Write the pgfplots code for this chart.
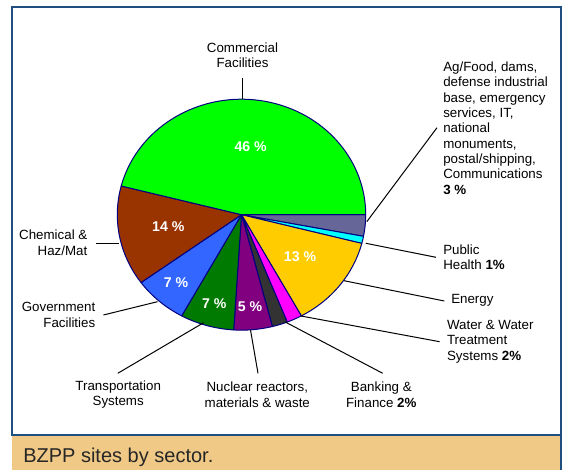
\documentclass[border=0pt]{standalone}
\usepackage{pgfplots}
\pgfplotsset{compat=1.18}
\usepackage{fontspec}
\setmainfont{Liberation Sans}
\definecolor{frameblue}{RGB}{31,78,128}
\definecolor{captan}{RGB}{240,201,135}
\definecolor{pieline}{RGB}{0,0,128}
\definecolor{cother}{HTML}{666699}
\definecolor{chealth}{HTML}{00FFFF}
\definecolor{cenergy}{HTML}{FFCC00}
\definecolor{cwater}{HTML}{FF00FF}
\definecolor{cbank}{HTML}{333333}
\definecolor{cnuc}{HTML}{800080}
\definecolor{ctrans}{HTML}{007A00}
\definecolor{cgov}{HTML}{3366FF}
\definecolor{cchem}{HTML}{993300}
\definecolor{ccomm}{HTML}{00FF00}
% slice: cumulative start percent, cumulative end percent, colour
\newcommand{\slice}[3]{%
  \fill[#3, draw=pieline, line width=0.75pt, line join=round]
    (axis cs:241.5,255.3) -- ++({-3.6*#1}:93.15pt and 86.6pt)
    arc[start angle={-3.6*#1}, end angle={-3.6*#2}, x radius=93.15pt, y radius=86.6pt] -- cycle;}
\begin{document}
\begin{tikzpicture}
\begin{axis}[x=0.75pt, y=0.75pt, xmin=0, xmax=564, ymin=0, ymax=470,
  hide axis, clip=false, scale only axis]
% background and frame
\fill[white] (axis cs:0,0) rectangle (axis cs:564,470);
\fill[captan] (axis cs:12,0) rectangle (axis cs:561,34.5);
\draw[frameblue, line width=1.5pt] (axis cs:12,34.5) rectangle (axis cs:561,463);
\draw[frameblue, line width=1.5pt] (axis cs:561,34.5) -- (axis cs:561,0);
% pie slices (percent shares: 3,1,13,2,2,5,7,7,14,46)
\slice{0}{3}{cother}
\slice{3}{4}{chealth}
\slice{4}{17}{cenergy}
\slice{17}{19}{cwater}
\slice{19}{21}{cbank}
\slice{21}{26}{cnuc}
\slice{26}{33}{ctrans}
\slice{33}{40}{cgov}
\slice{40}{54}{cchem}
\slice{54}{100}{ccomm}
% percent labels
\begin{scope}[every node/.style={text=white, font=\fontsize{10.6pt}{12pt}\selectfont\bfseries, inner sep=0pt}]
\node at (axis cs:250.7,323.3) {46 \%};
\node at (axis cs:168.3,243.3) {14 \%};
\node at (axis cs:176,187.3) {7 \%};
\node at (axis cs:214.3,166.7) {7 \%};
\node at (axis cs:250,163.3) {5 \%};
\node at (axis cs:300,213.3) {13 \%};
\end{scope}
% leader lines
\begin{scope}[black, line width=0.75pt]
\draw (axis cs:242.5,392.3) -- (axis cs:242.5,371);
\draw (axis cs:366.8,248.3) -- (axis cs:437,342.3);
\draw (axis cs:365.8,226.7) -- (axis cs:436,212.7);
\draw (axis cs:344,189.3) -- (axis cs:444.3,169);
\draw (axis cs:301,154) -- (axis cs:439.6,128.3);
\draw (axis cs:284.7,148.3) -- (axis cs:382.7,96.7);
\draw (axis cs:250.5,140) -- (axis cs:258,96.7);
\draw (axis cs:203.6,147.3) -- (axis cs:117.8,96.7);
\draw (axis cs:157.5,168.3) -- (axis cs:103.4,155);
\draw (axis cs:118.9,226.7) -- (axis cs:95.5,226.7);
\end{scope}
% outer labels
\begin{scope}[every node/.style={text=black, font=\fontsize{10pt}{11.5pt}\selectfont, inner sep=0pt}]
\node[align=center] at (axis cs:242.5,414.5) {Commercial\\Facilities};
\node[align=left, anchor=west] at (axis cs:443,342) {Ag/Food, dams,\\defense industrial\\base, emergency\\services, IT,\\national\\monuments,\\postal/shipping,\\Communications\\\textbf{3 \%}};
\node[align=left, anchor=west] at (axis cs:443,212.5) {Public\\Health \textbf{1\%}};
\node[align=left, anchor=west] at (axis cs:451,169.3) {Energy};
\node[align=left, anchor=west] at (axis cs:446.8,128.3) {Water \& Water\\Treatment\\Systems \textbf{2\%}};
\node[align=center] at (axis cs:381.3,75.3) {Banking \&\\Finance \textbf{2\%}};
\node[align=center] at (axis cs:257.3,75.3) {Nuclear reactors,\\materials \& waste};
\node[align=center] at (axis cs:118.2,75.3) {Transportation\\Systems};
\node[align=right, anchor=east] at (axis cs:95.5,155) {Government\\Facilities};
\node[align=right, anchor=east] at (axis cs:87.6,227.1) {Chemical \&\\Haz/Mat};
\end{scope}
% caption
\node[anchor=west, inner sep=0pt, font=\fontsize{15pt}{18pt}\selectfont, text=black!85] at (axis cs:23,12.7) {BZPP sites by sector.};
\end{axis}
\end{tikzpicture}
\end{document}
